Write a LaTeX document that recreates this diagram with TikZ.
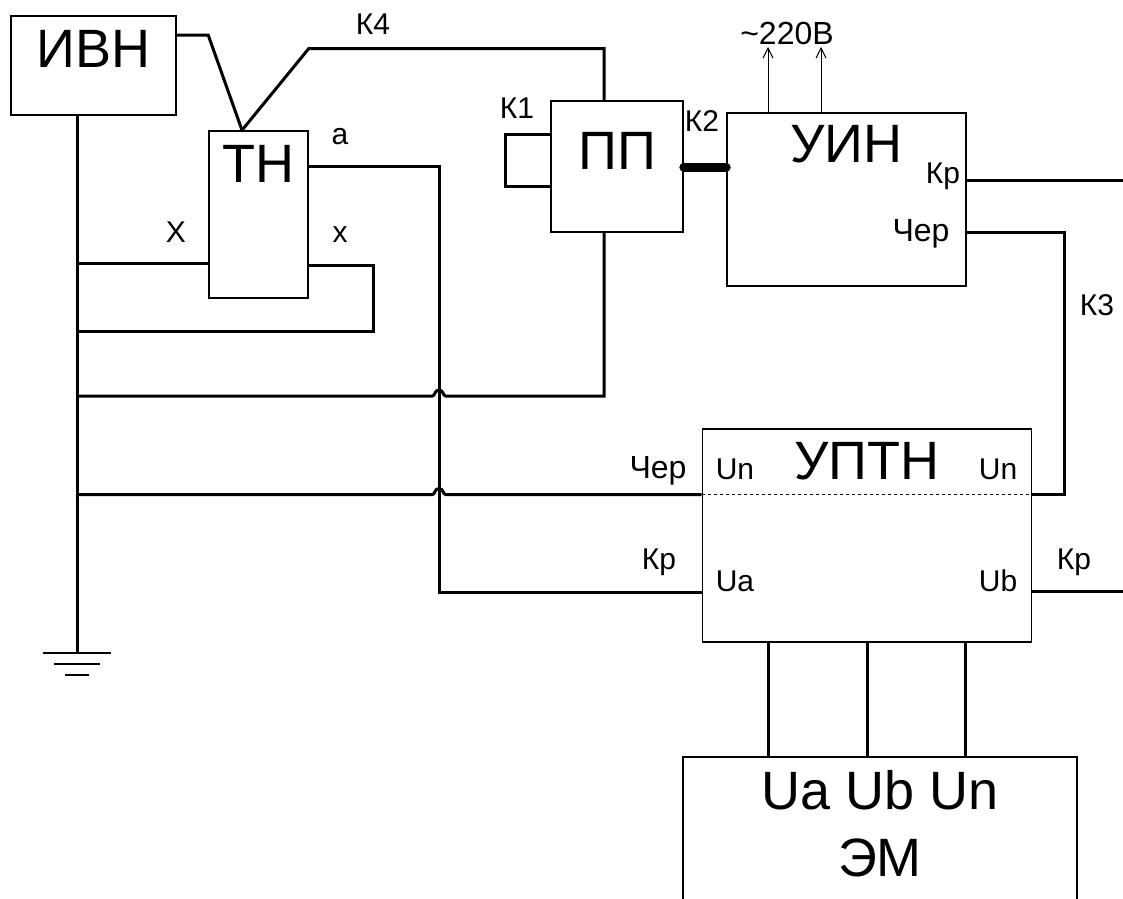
\documentclass[tikz,border=0pt]{standalone}
\usepackage{fontspec}
\setmainfont{Liberation Sans}
\usetikzlibrary{arrows.meta,calc}
\tikzstyle{block} = [rectangle, draw, line width=1.6pt, inner sep=0pt]
\tikzstyle{wire} = [line width=3pt, line join=miter]
\tikzstyle{biglab} = [font=\fontsize{54}{54}\selectfont, inner sep=0pt]
\tikzstyle{lab} = [font=\fontsize{30}{30}\selectfont, inner sep=0pt]
\tikzstyle{labwide} = [font=\fontsize{32}{32}\selectfont, inner sep=0pt]
\begin{document}
\begin{tikzpicture}[x=1pt, y=-1pt, node distance = 0pt]
\useasboundingbox (0,0) rectangle (1123,898);
\clip (0,0) rectangle (1123,898);
\fill [white] (0,0) rectangle (1123,898);
\node [block, minimum width=165pt, minimum height=99pt] (IVN) at (93.5,65.5) {};
\node [block, minimum width=99pt, minimum height=167pt] (TN) at (258.5,214.5) {};
\node [block, minimum width=132pt, minimum height=131pt] (PP) at (617,166.5) {};
\node [block, minimum width=239pt, minimum height=173pt] (UIN) at (846.5,199.5) {};
\node [block, minimum width=329pt, minimum height=213pt] (UPTN) at (867,535.5) {};
\node [block, minimum width=394pt, minimum height=200pt] (EM) at (880,857) {};
\node [biglab] (IVN_lab) [above of=IVN, yshift=17] {ИВН};
\node [biglab] (TN_lab) [above of=TN, yshift=51] {ТН};
\node [biglab] (PP_lab) [above of=PP, yshift=16] {ПП};
\node [biglab] (UIN_lab) [above of=UIN, yshift=55] {УИН};
\node [biglab] (UPTN_lab) [above of=UPTN, yshift=74] {УПТН};
\node [biglab] (EM_top) at (880,790) {Ua Ub Un};
\node [biglab] (EM_lab) [below of=EM_top, yshift=-68] {ЭМ};
\node [lab] (K4_lab) at (373,24) {К4};
\node [lab] (K1_lab) at (517,108) {К1};
\node [lab] (K2_lab) at (702,121) {К2};
\node [lab] (K3_lab) at (1097,305) {К3};
\node [lab] (a_lab) at (340,137) {a};
\node [lab] (x_lab) at (340,235) {x};
\node [lab] (X_lab) at (176,232) {X};
\node [labwide] (V220_lab) at (787,33) {\textasciitilde220В};
\node [lab] (Kp_uin) at (943,176) {Кр};
\node [labwide] (Cher_uin) at (921,234) {Чер};
\node [labwide] (Cher_in) at (658,471) {Чер};
\node [lab] (Kp_in) at (659,562) {Кр};
\node [lab] (Kp_out) at (1074,562) {Кр};
\node [lab] (Un_in) at (735,469) {Un};
\node [lab] (Un_out) at (998,469) {Un};
\node [lab] (Ua_in) at (735,581) {Ua};
\node [lab] (Ub_out) at (998,581) {Ub};
\coordinate (gnd) at (77,653);
\coordinate (out_kp) at (1123,180);
\coordinate (out_ub) at (1123,591.5);
% ground bus
\draw [wire] (gnd |- IVN.south) -- (gnd);
\draw [line width=2.5pt] ($(gnd)+(-34,0)$) -- ($(gnd)+(34,0)$);
\draw [line width=2.5pt] ($(gnd)+(-23,11)$) -- ($(gnd)+(23,11)$);
\draw [line width=2.5pt] ($(gnd)+(-12,22)$) -- ($(gnd)+(12,22)$);
% transformer
\draw [wire] (IVN.east |- 0,35) -- (TN.west |- 0,35) -- (TN.north -| 242,0);
\draw [wire] (TN.north -| 242,0) -- (TN.east |- 0,48.5) -- (604,48.5) -- (PP.north -| 604,0);
\draw [wire] (gnd |- 0,263) -- (TN.west |- 0,263);
\draw [wire] (TN.east |- 0,265) -- (373,265) -- (373,331) -- (gnd |- 0,331);
\draw [wire] (TN.east |- 0,166) -- (439,166) -- (439,592) -- (UPTN.west |- 0,592);
% pp
\draw [wire] (PP.west |- 0,134) -- (505,134) -- (505,186) -- (PP.west |- 0,186);
\draw [wire] (PP.south -| 604,0) -- (604,396) -- (445.5,396) .. controls (443,396) and (443.5,390) .. (439,390) .. controls (434.5,390) and (435,396) .. (432.5,396) -- (gnd |- 0,396);
\draw [line width=9pt, line cap=round] (PP.east |- 0,167) -- (UIN.west |- 0,167);
\draw [-{Straight Barb[length=10pt,width=10pt]}, line width=1pt] (UIN.north -| 768,0) -- (768,47);
\draw [-{Straight Barb[length=10pt,width=10pt]}, line width=1pt] (UIN.north -| 821,0) -- (821,47);
% uin outputs
\draw [wire] (UIN.east |- 0,180) -- (out_kp);
\draw [wire] (UIN.east |- 0,232) -- (1064,232) -- (1064,494.5) -- (UPTN.east |- 0,494.5);
\draw [wire] (UPTN.west |- 0,494.5) -- (445.5,494.5) .. controls (443,494.5) and (443.5,488.5) .. (439,488.5) .. controls (434.5,488.5) and (435,494.5) .. (432.5,494.5) -- (gnd |- 0,494.5);
\draw [dashed, line width=1.2pt] (UPTN.west |- 0,494.5) -- (UPTN.east |- 0,494.5);
\draw [wire] (UPTN.east |- 0,591.5) -- (out_ub);
% em
\draw [wire] (UPTN.south -| 768,0) -- (EM.north -| 768,0);
\draw [wire] (UPTN.south -| 867,0) -- (EM.north -| 867,0);
\draw [wire] (UPTN.south -| 965.5,0) -- (EM.north -| 965.5,0);
\end{tikzpicture}
\end{document}
